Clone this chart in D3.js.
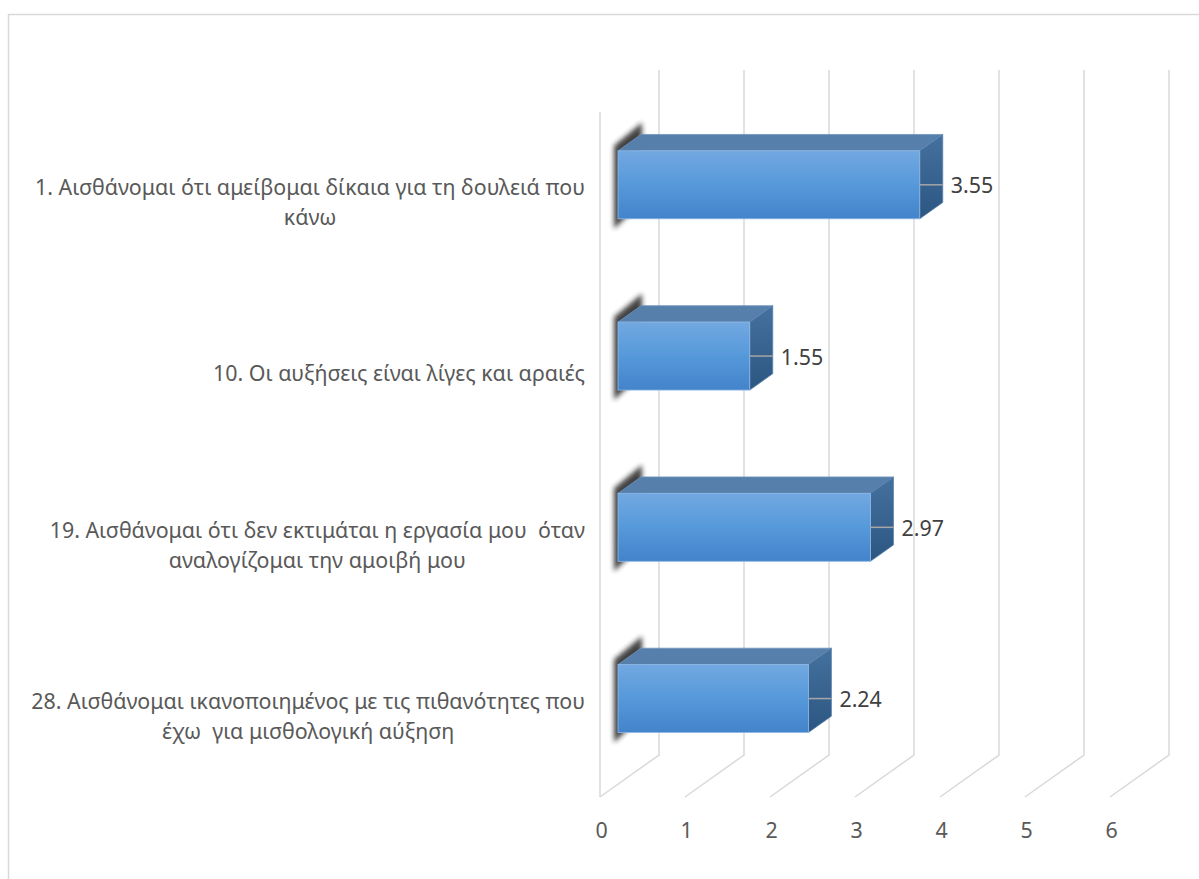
<!DOCTYPE html>
<html>
<head>
<meta charset="utf-8">
<script src="https://cdn.jsdelivr.net/npm/d3@7"></script>
<style>
  body { margin: 0; background: #fff; }
  text { font-family: "Noto Sans", sans-serif; white-space: pre; }
</style>
</head>
<body>
<div id="chart"></div>
<script>
// data
const categories = [
    '1. Αισθάνομαι ότι αμείβομαι δίκαια για τη δουλειά που\nκάνω',
    '10. Οι αυξήσεις είναι λίγες και αραιές',
    '19. Αισθάνομαι ότι δεν εκτιμάται η εργασία μου  όταν\nαναλογίζομαι την αμοιβή μου',
    '28. Αισθάνομαι ικανοποιημένος με τις πιθανότητες που\nέχω  για μισθολογική αύξηση'
];
const values = [3.55, 1.55, 2.97, 2.24];
const tickValues = [0, 1, 2, 3, 4, 5, 6];

const width = 1199, height = 879;
const depthX = 59, depthY = -42;       // floor depth of the 3d box
const tFront = 0.305, tBack = 0.695;   // where the bars sit in that depth
const floorY = 797, topY = 112;
const fontSize = 21.4;

const svg = d3.select('#chart').append('svg')
    .attr('width', width)
    .attr('height', height);

const defs = svg.append('defs');
const gFront = defs.append('linearGradient').attr('id', 'gFront')
    .attr('x1', 0).attr('y1', 0).attr('x2', 0).attr('y2', 1);
gFront.append('stop').attr('offset', '0%').attr('stop-color', '#72a8e1');
gFront.append('stop').attr('offset', '50%').attr('stop-color', '#5699da');
gFront.append('stop').attr('offset', '100%').attr('stop-color', '#4383ca');
const gSide = defs.append('linearGradient').attr('id', 'gSide')
    .attr('x1', 0).attr('y1', 0).attr('x2', 0).attr('y2', 1);
gSide.append('stop').attr('offset', '0%').attr('stop-color', '#45719e');
gSide.append('stop').attr('offset', '100%').attr('stop-color', '#2c5682');
defs.append('filter').attr('id', 'blur')
    .attr('x', '-50%').attr('y', '-50%').attr('width', '200%').attr('height', '200%')
    .append('feGaussianBlur').attr('stdDeviation', 2.5);

// chart border
svg.append('rect')
    .attr('x', 8.5).attr('y', 14.5)
    .attr('width', 1300).attr('height', 1000)
    .attr('fill', 'none')
    .attr('stroke', '#d9d9d9')
    .attr('stroke-width', 1.5);

const x = d3.scaleLinear().domain([0, 6]).range([600, 1110]);
const y = d3.scaleBand().domain(categories).range([topY, floorY])
    .paddingInner(0.603).paddingOuter(0.3015);

// gridlines: floor diagonal + back wall vertical
svg.selectAll('.grid')
    .data(tickValues)
    .enter().append('path')
    .attr('class', 'grid')
    .attr('d', d => `M${x(d)},${floorY}L${x(d) + depthX},${floorY + depthY}L${x(d) + depthX},${topY + depthY}`)
    .attr('fill', 'none')
    .attr('stroke', '#d9d9d9')
    .attr('stroke-width', 1.5);

// vertical category axis line on the front plane
svg.append('line')
    .attr('x1', x(0)).attr('x2', x(0))
    .attr('y1', topY).attr('y2', floorY)
    .attr('stroke', '#d9d9d9')
    .attr('stroke-width', 1.5);

// value axis labels
const xAxis = d3.axisBottom(x).tickValues(tickValues).tickSize(0).tickFormat(d3.format('d'));
svg.append('g')
    .attr('transform', `translate(1,${floorY})`)
    .call(xAxis)
    .call(g => g.select('.domain').remove())
    .call(g => g.selectAll('text')
        .attr('y', 34)
        .attr('dy', '0.35em')
        .attr('fill', '#595959')
        .style('font-size', fontSize + 'px')
        .style('font-family', '"Noto Sans", sans-serif'));

const bw = y.bandwidth();
const bdx = depthX * (tBack - tFront), bdy = depthY * (tBack - tFront);

const bars = svg.selectAll('.bar')
    .data(categories.map((c, i) => ({ c: c, v: values[i] })))
    .enter().append('g')
    .attr('class', 'bar');

function geom(d) {
    const x0 = x(0) + depthX * tFront;
    const x1 = x(d.v) + depthX * tFront;
    const yT = y(d.c) + depthY * tFront;
    return { x0, x1, yT, yB: yT + bw };
}

// soft shadow at the base of each bar
bars.append('polygon')
    .attr('points', d => {
        const g = geom(d);
        return [[g.x0 - 4, g.yT - 5], [g.x0 + bdx + 1, g.yT + bdy - 12],
                [g.x0 + bdx + 1, g.yB + bdy], [g.x0 - 4, g.yB + 10]].join(' ');
    })
    .attr('fill', '#222')
    .attr('opacity', 0.85)
    .attr('filter', 'url(#blur)');

bars.append('polygon')
    .attr('points', d => {
        const g = geom(d);
        return [[g.x0, g.yT], [g.x0 + bdx, g.yT + bdy], [g.x1 + bdx, g.yT + bdy], [g.x1, g.yT]].join(' ');
    })
    .attr('fill', '#567fab')
    .attr('stroke', '#6d93bd')
    .attr('stroke-width', 0.8);

bars.append('polygon')
    .attr('points', d => {
        const g = geom(d);
        return [[g.x1, g.yT], [g.x1 + bdx, g.yT + bdy], [g.x1 + bdx, g.yB + bdy], [g.x1, g.yB]].join(' ');
    })
    .attr('fill', 'url(#gSide)')
    .attr('stroke', '#5a82ad')
    .attr('stroke-width', 0.8);

bars.append('rect')
    .attr('x', d => geom(d).x0)
    .attr('y', d => geom(d).yT)
    .attr('width', d => geom(d).x1 - geom(d).x0)
    .attr('height', bw)
    .attr('fill', 'url(#gFront)')
    .attr('stroke', '#8fb8e6')
    .attr('stroke-width', 0.8);

// leader lines and value labels
bars.append('line')
    .attr('x1', d => geom(d).x1)
    .attr('x2', d => geom(d).x1 + bdx)
    .attr('y1', d => geom(d).yT + bw / 2)
    .attr('y2', d => geom(d).yT + bw / 2)
    .attr('stroke', '#a6a6a6')
    .attr('stroke-width', 1.5);

bars.append('text')
    .attr('x', d => geom(d).x1 + bdx + 8)
    .attr('y', d => geom(d).yT + bw / 2 + 1)
    .attr('dy', '0.35em')
    .attr('fill', '#404040')
    .style('font-size', fontSize + 'px')
    .text(d => d.v.toFixed(2));

// category labels: block right-aligned, lines centred inside it
const labelRight = 585, lineH = 30;
categories.forEach(c => {
    const lines = c.split('\n');
    const t = svg.append('text')
        .attr('fill', '#595959')
        .attr('text-anchor', 'middle')
        .style('font-size', fontSize + 'px');
    const cy = y(c) + bw / 2 + 5;
    const spans = lines.map((l, i) => t.append('tspan')
        .attr('y', cy + (i - (lines.length - 1) / 2) * lineH)
        .attr('dy', '0.35em')
        .text(l));
    const maxW = d3.max(spans, s => s.node().getComputedTextLength());
    spans.forEach(s => s.attr('x', labelRight - maxW / 2));
});
</script>
</body>
</html>
